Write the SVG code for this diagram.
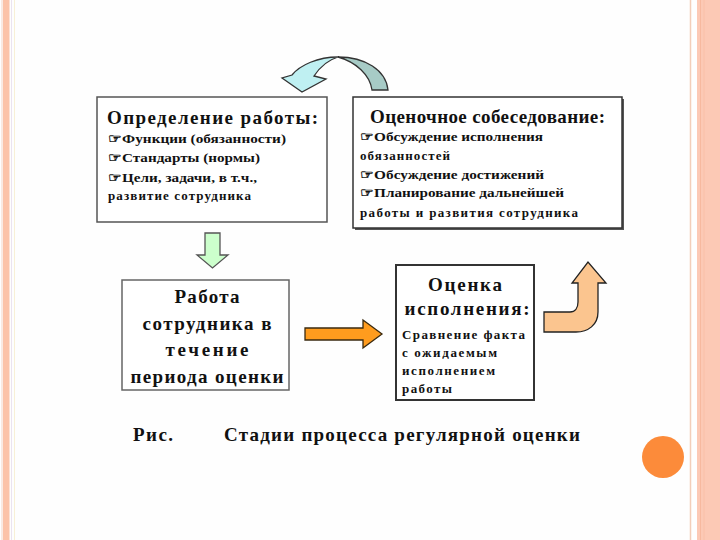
<svg xmlns="http://www.w3.org/2000/svg" width="720" height="540" viewBox="0 0 720 540">
<style>
.box{fill:#fff}
.h{font-family:"Liberation Serif","DejaVu Serif",serif;font-weight:bold;font-size:19px;fill:#111}
.t{font-family:"Liberation Serif","DejaVu Serif",serif;font-weight:bold;font-size:13px;fill:#111}
.c{text-anchor:middle}
.arr{stroke-width:1.3;stroke-linejoin:miter}
</style>
<rect x="0" y="0" width="720" height="540" fill="#fefefe"/>
<g id="frame">
<rect x="3" y="0" width="6.5" height="540" fill="#fcc3a8"/>
<line x1="2" y1="0" x2="2" y2="540" stroke="#f6d6c6" stroke-width="1"/>
<line x1="11.5" y1="0" x2="11.5" y2="540" stroke="#ebe3f0" stroke-width="1"/>
<line x1="14.5" y1="0" x2="14.5" y2="540" stroke="#f8f0d6" stroke-width="1"/>
<line x1="690.5" y1="0" x2="690.5" y2="540" stroke="#f3cdb8" stroke-width="1.5"/>
<rect x="697" y="0" width="23" height="540" fill="#fcc9b5"/>
<line x1="700.5" y1="0" x2="700.5" y2="540" stroke="#f7b99f" stroke-width="1"/>
<line x1="704" y1="0" x2="704" y2="540" stroke="#f9c0a8" stroke-width="1"/>
<circle cx="663" cy="457" r="21" fill="#fc8b3a"/>
</g>
<g id="connectors">
<path class="arr" d="M338,57 C365,57 386,70 388,90 L372,90 C370,75 356,62 338,57 Z" fill="#a7cbc6" stroke="#333"/>
<path class="arr" d="M338,57 C318,57 300,65 292,75 L282,78 L302,92 L326,79 L314,76 C320,67 328,60 338,57 Z" fill="#bff0f2" stroke="#333"/>
<path class="arr" d="M205,233 L220,233 L220,255 L228,255 L212.5,268 L197,255 L205,255 Z" fill="#ccffcc" stroke="#555"/>
<path class="arr" d="M305,328 L363,328 L363,320 L382,334 L363,348 L363,340 L305,340 Z" fill="#ff9c1e" stroke="#3a2a10"/>
<path class="arr" d="M544,312 L570,312 C575,312 578,308 578,302 L578,283 L572,283 L588,262 L606,283 L598,283 L598,312 C598,325 588,332 576,332 L544,332 Z" fill="#fbc58f" stroke="#222"/>
</g>
<g id="node-definition">
<rect class="box" x="97" y="97" width="230" height="125" stroke="#555" stroke-width="1.5"/>
<text class="h" x="107" y="124" textLength="211" lengthAdjust="spacing">Определение работы:</text>
<text class="t" x="108" y="143" textLength="178" lengthAdjust="spacingAndGlyphs">☞Функции (обязанности)</text>
<text class="t" x="108" y="162" textLength="152" lengthAdjust="spacingAndGlyphs">☞Стандарты (нормы)</text>
<text class="t" x="108" y="182" textLength="149" lengthAdjust="spacingAndGlyphs">☞Цели, задачи, в т.ч.,</text>
<text class="t" x="108" y="200" textLength="143" lengthAdjust="spacing">развитие сотрудника</text>
</g>
<g id="node-interview">
<rect x="355" y="99" width="269" height="131" fill="#555"/>
<rect class="box" x="353" y="97" width="269" height="131" stroke="#333" stroke-width="1.5"/>
<text class="h" x="370" y="123" textLength="235" lengthAdjust="spacing">Оценочное собеседование:</text>
<text class="t" x="360" y="141" textLength="183" lengthAdjust="spacingAndGlyphs">☞Обсуждение исполнения</text>
<text class="t" x="360" y="160" textLength="90" lengthAdjust="spacing">обязанностей</text>
<text class="t" x="360" y="179" textLength="184" lengthAdjust="spacingAndGlyphs">☞Обсуждение достижений</text>
<text class="t" x="360" y="197" textLength="204" lengthAdjust="spacingAndGlyphs">☞Планирование дальнейшей</text>
<text class="t" x="360" y="217" textLength="218" lengthAdjust="spacing">работы и развития сотрудника</text>
</g>
<g id="node-work">
<rect class="box" x="122" y="280" width="167" height="110" stroke="#666" stroke-width="1.5"/>
<text class="h c" x="207" y="303" textLength="65" lengthAdjust="spacing">Работа</text>
<text class="h c" x="207" y="330" textLength="129" lengthAdjust="spacing">сотрудника в</text>
<text class="h c" x="207" y="356" textLength="83" lengthAdjust="spacing">течение</text>
<text class="h c" x="207" y="383" textLength="153" lengthAdjust="spacing">периода оценки</text>
</g>
<g id="node-evaluation">
<rect class="box" x="396" y="265" width="138" height="135" stroke="#333" stroke-width="2"/>
<text class="h c" x="465" y="291" textLength="74" lengthAdjust="spacing">Оценка</text>
<text class="h c" x="467" y="315" textLength="125" lengthAdjust="spacing">исполнения:</text>
<text class="t" x="402" y="339" textLength="123" lengthAdjust="spacing">Сравнение факта</text>
<text class="t" x="402" y="357" textLength="95" lengthAdjust="spacing">с ожидаемым</text>
<text class="t" x="402" y="375" textLength="93" lengthAdjust="spacing">исполнением</text>
<text class="t" x="402" y="393" textLength="50" lengthAdjust="spacing">работы</text>
</g>
<g id="caption">
<text class="h" x="133" y="441" textLength="40" lengthAdjust="spacing">Рис.</text>
<text class="h" x="224" y="441" textLength="356" lengthAdjust="spacing">Стадии процесса регулярной оценки</text>
</g>
</svg>
